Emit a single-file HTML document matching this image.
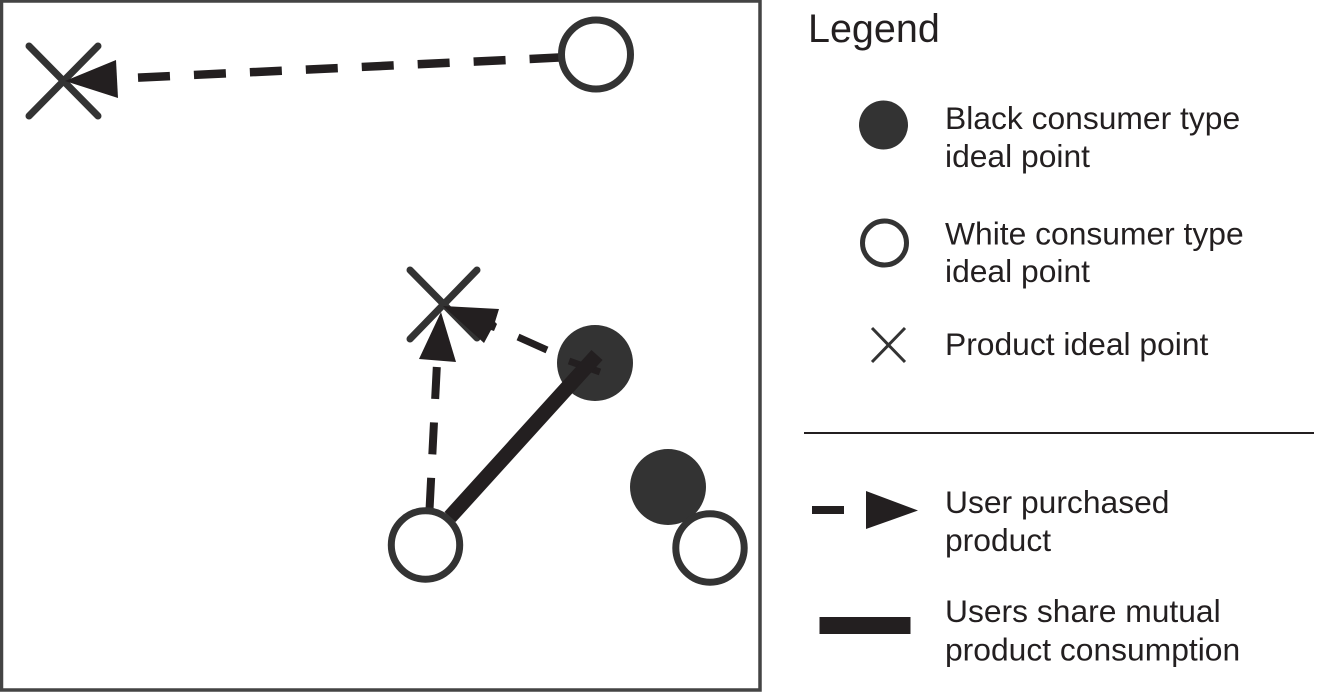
<!DOCTYPE html>
<html>
<head>
<meta charset="utf-8">
<style>
html,body{margin:0;padding:0;background:#fff;width:1323px;height:693px;overflow:hidden}
svg{display:block}
text{font-family:"Liberation Sans",Arial,sans-serif;fill:#231f20;font-size:31.8px}
</style>
</head>
<body>
<svg width="1323" height="693" viewBox="0 0 1323 693">
<rect x="1.5" y="1" width="758.5" height="689" fill="#fff" stroke="#444" stroke-width="3.5"/>

<!-- top left X -->
<g stroke="#333" stroke-width="7" stroke-linecap="round">
<line x1="29" y1="46" x2="98" y2="116"/>
<line x1="98" y1="46" x2="29" y2="116"/>
</g>
<polygon points="65,81 116,60 118,98" fill="#231f20"/>
<line x1="138" y1="77.6" x2="562" y2="57.4" stroke="#231f20" stroke-width="8.5" stroke-dasharray="32 24"/>
<circle cx="596" cy="54.5" r="34.5" fill="#fff" stroke="#333" stroke-width="7"/>

<!-- middle X -->
<g stroke="#333" stroke-width="7" stroke-linecap="round">
<line x1="410" y1="270" x2="477" y2="338"/>
<line x1="477" y1="270" x2="410" y2="339"/>
</g>
<polygon points="443,306 499,309 495,322 497,324 494,331 491,330 484,343" fill="#231f20"/>
<polygon points="441,312 419,359 456,362" fill="#231f20"/>

<circle cx="595" cy="363" r="38" fill="#333"/>
<line x1="518" y1="337" x2="547" y2="350" stroke="#231f20" stroke-width="7"/>
<line x1="569" y1="361" x2="600" y2="372" stroke="#231f20" stroke-width="7"/>
<line x1="436.8" y1="367" x2="429.5" y2="510" stroke="#231f20" stroke-width="8" stroke-dasharray="32 23.5"/>
<line x1="450" y1="517" x2="597" y2="355" stroke="#231f20" stroke-width="15"/>
<circle cx="425.5" cy="545" r="34.2" fill="#fff" stroke="#333" stroke-width="7"/>

<circle cx="668" cy="487" r="38" fill="#333"/>
<circle cx="710" cy="548" r="34.2" fill="#fff" stroke="#333" stroke-width="7"/>

<!-- Legend -->
<text x="808" y="42" style="font-size:39.5px">Legend</text>
<circle cx="883.5" cy="125" r="24.5" fill="#333"/>
<text x="945" y="129">Black consumer type</text>
<text x="945" y="167">ideal point</text>
<circle cx="884.5" cy="243" r="22" fill="#fff" stroke="#333" stroke-width="5"/>
<text x="945" y="244.5">White consumer type</text>
<text x="945" y="282">ideal point</text>
<g stroke="#333" stroke-width="3">
<line x1="872" y1="328" x2="905" y2="362"/>
<line x1="905" y1="328" x2="872" y2="362"/>
</g>
<text x="945" y="355">Product ideal point</text>
<line x1="804" y1="433" x2="1314" y2="433" stroke="#231f20" stroke-width="2"/>
<rect x="812" y="506" width="32" height="8" fill="#231f20"/>
<polygon points="866,491 918,510.5 866,529" fill="#231f20"/>
<text x="945" y="513">User purchased</text>
<text x="945" y="551">product</text>
<rect x="819.5" y="617" width="91" height="17" fill="#231f20"/>
<text x="945" y="622">Users share mutual</text>
<text x="945" y="660.5">product consumption</text>
</svg>
</body>
</html>
